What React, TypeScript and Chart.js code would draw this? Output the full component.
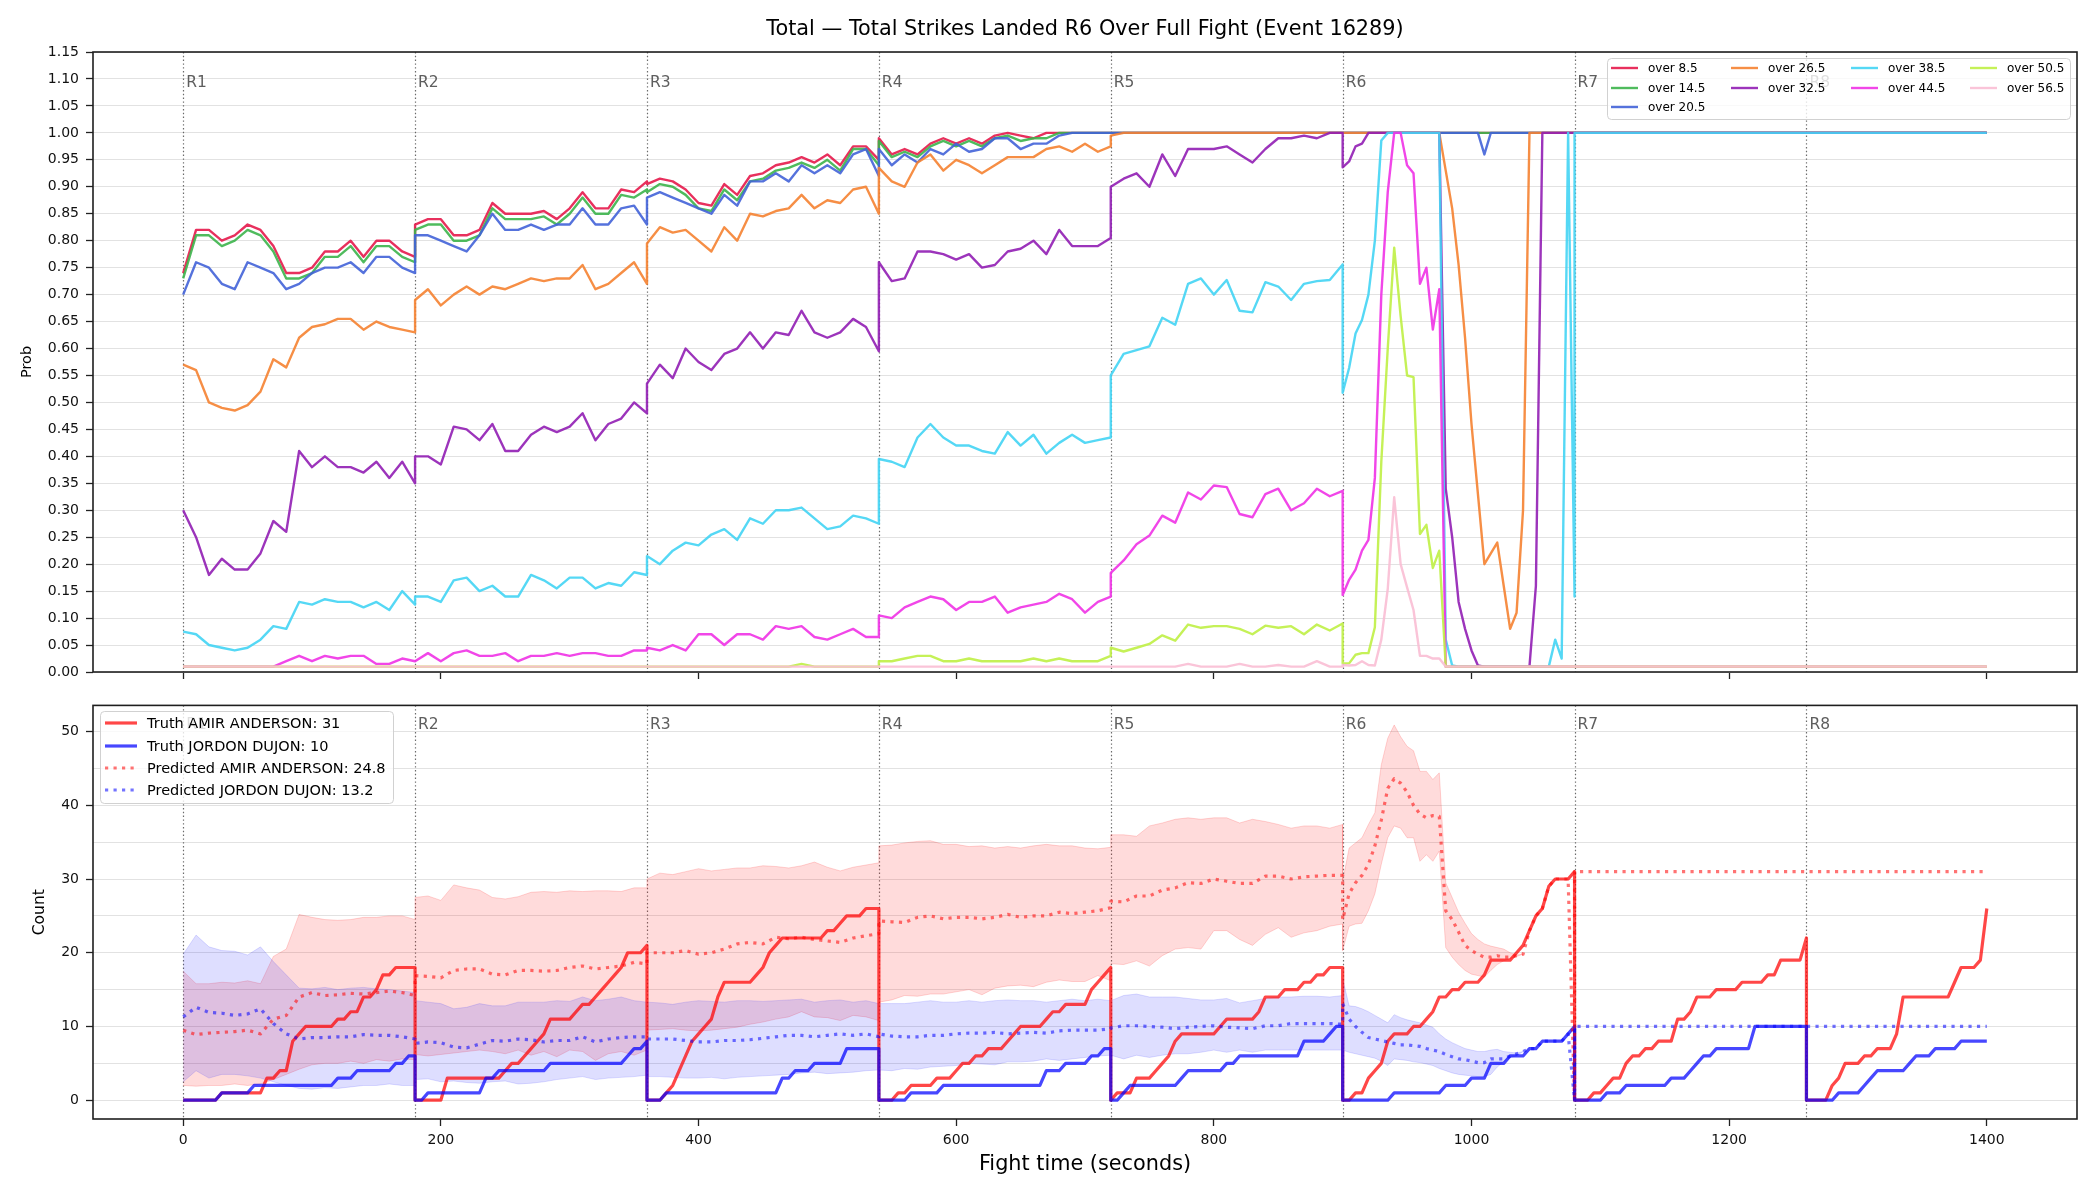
import React, { useEffect, useRef } from 'react';
import { Chart, registerables } from 'chart.js';

Chart.register(...registerables);

const FONT = '"DejaVu Sans", sans-serif';

// ---- fight structure (seconds) ----
const roundStarts = [0, 180, 360, 540, 720, 900, 1080, 1260];
const roundNames = ['R1', 'R2', 'R3', 'R4', 'R5', 'R6', 'R7', 'R8'];

// sampling interval (s) used by each round's values
const probStep = [10, 10, 10, 10, 10, 5, 180, 140];
const truthStep = [5, 5, 5, 5, 5, 5, 5, 5];
const predStep = [10, 10, 10, 10, 10, 5, 180, 140];
const bandStep = [10, 10, 10, 10, 10, 5];

const timeTicks = [0, 200, 400, 600, 800, 1000, 1200, 1400];
const probTicks = [0, 0.05, 0.1, 0.15, 0.2, 0.25, 0.3, 0.35, 0.4, 0.45, 0.5, 0.55, 0.6, 0.65, 0.7, 0.75, 0.8, 0.85, 0.9, 0.95, 1.0, 1.05, 1.1, 1.15];
const countTicks = [0, 5, 10, 15, 20, 25, 30, 35, 40, 45, 50];

const TITLE = 'Total \u2014 Total Strikes Landed R6 Over Full Fight (Event 16289)';

// ---- market probabilities, one array per round ----
const over85 = [
  [0.74, 0.82, 0.82, 0.80, 0.81, 0.83, 0.82, 0.79, 0.74, 0.74, 0.75, 0.78, 0.78, 0.80, 0.77, 0.80, 0.80, 0.78, 0.77],
  [0.83, 0.84, 0.84, 0.81, 0.81, 0.82, 0.87, 0.85, 0.85, 0.85, 0.855, 0.84, 0.86, 0.89, 0.86, 0.86, 0.895, 0.89, 0.91],
  [0.905, 0.915, 0.91, 0.895, 0.87, 0.865, 0.905, 0.885, 0.92, 0.925, 0.94, 0.945, 0.955, 0.945, 0.96, 0.94, 0.975, 0.975, 0.95],
  [0.99, 0.96, 0.97, 0.96, 0.98, 0.99, 0.98, 0.99, 0.98, 0.995, 1, 0.995, 0.99, 1, 1, 1, 1, 1, 1],
  [1, 1, 1, 1, 1, 1, 1, 1, 1, 1, 1, 1, 1, 1, 1, 1, 1, 1, 1],
  [1, 1, 1, 1, 1, 1, 1, 1, 1, 1, 1, 1, 1, 1, 1, 1, 1, 1, 1, 1, 1, 1, 1, 1, 1, 1, 1, 1, 1, 1, 1, 1, 1, 1, 1, 1, 1],
  [1, 1],
  [1, 1],
];
const over145 = [
  [0.73, 0.81, 0.81, 0.79, 0.80, 0.82, 0.81, 0.78, 0.73, 0.73, 0.74, 0.77, 0.77, 0.79, 0.76, 0.79, 0.79, 0.77, 0.76],
  [0.82, 0.83, 0.83, 0.80, 0.80, 0.81, 0.86, 0.84, 0.84, 0.84, 0.845, 0.83, 0.85, 0.88, 0.85, 0.85, 0.885, 0.88, 0.895],
  [0.89, 0.905, 0.90, 0.885, 0.86, 0.855, 0.895, 0.875, 0.91, 0.915, 0.93, 0.935, 0.945, 0.935, 0.95, 0.93, 0.97, 0.97, 0.94],
  [0.985, 0.955, 0.965, 0.955, 0.975, 0.985, 0.975, 0.985, 0.975, 0.99, 0.995, 0.985, 0.99, 0.99, 1, 1, 1, 1, 1],
  [1, 1, 1, 1, 1, 1, 1, 1, 1, 1, 1, 1, 1, 1, 1, 1, 1, 1, 1],
  [1, 1, 1, 1, 1, 1, 1, 1, 1, 1, 1, 1, 1, 1, 1, 1, 1, 1, 1, 1, 1, 1, 1, 1, 1, 1, 1, 1, 1, 1, 1, 1, 1, 1, 1, 1, 1],
  [1, 1],
  [1, 1],
];
const over205 = [
  [0.70, 0.76, 0.75, 0.72, 0.71, 0.76, 0.75, 0.74, 0.71, 0.72, 0.74, 0.75, 0.75, 0.76, 0.74, 0.77, 0.77, 0.75, 0.74],
  [0.81, 0.81, 0.80, 0.79, 0.78, 0.81, 0.85, 0.82, 0.82, 0.83, 0.82, 0.83, 0.83, 0.86, 0.83, 0.83, 0.86, 0.865, 0.83],
  [0.88, 0.89, 0.88, 0.87, 0.86, 0.85, 0.885, 0.865, 0.91, 0.91, 0.925, 0.91, 0.94, 0.925, 0.94, 0.925, 0.96, 0.97, 0.92],
  [0.97, 0.94, 0.96, 0.945, 0.97, 0.96, 0.98, 0.965, 0.97, 0.99, 0.99, 0.97, 0.98, 0.98, 0.995, 1, 1, 1, 1],
  [1, 1, 1, 1, 1, 1, 1, 1, 1, 1, 1, 1, 1, 1, 1, 1, 1, 1, 1],
  [1, 1, 1, 1, 1, 1, 1, 1, 1, 1, 1, 1, 1, 1, 1, 1, 1, 1, 1, 1, 1, 1, 0.96, 1, 1, 1, 1, 1, 1, 1, 1, 1, 1, 1, 1, 1, 1],
  [1, 1],
  [1, 1],
];
const over265 = [
  [0.57, 0.56, 0.50, 0.49, 0.485, 0.495, 0.52, 0.58, 0.565, 0.62, 0.64, 0.645, 0.655, 0.655, 0.635, 0.65, 0.64, 0.635, 0.63],
  [0.69, 0.71, 0.68, 0.70, 0.715, 0.70, 0.715, 0.71, 0.72, 0.73, 0.725, 0.73, 0.73, 0.755, 0.71, 0.72, 0.74, 0.76, 0.72],
  [0.795, 0.825, 0.815, 0.82, 0.80, 0.78, 0.825, 0.80, 0.85, 0.845, 0.855, 0.86, 0.885, 0.86, 0.875, 0.87, 0.895, 0.90, 0.85],
  [0.935, 0.91, 0.90, 0.945, 0.96, 0.93, 0.95, 0.94, 0.925, 0.94, 0.955, 0.955, 0.955, 0.97, 0.975, 0.965, 0.98, 0.965, 0.975],
  [0.995, 1, 1, 1, 1, 1, 1, 1, 1, 1, 1, 1, 1, 1, 1, 1, 1, 1, 1],
  [1, 1, 1, 1, 1, 1, 1, 1, 1, 1, 1, 1, 1, 1, 1, 1,
    0.93, 0.86, 0.755, 0.62, 0.46, 0.33, 0.20, 0.22, 0.24, 0.16, 0.08, 0.11, 0.30,
    1, 1, 1, 1, 1, 1, 1, 1],
  [1, 1],
  [1, 1],
];
const over325 = [
  [0.30, 0.25, 0.18, 0.21, 0.19, 0.19, 0.22, 0.28, 0.26, 0.41, 0.38, 0.40, 0.38, 0.38, 0.37, 0.39, 0.36, 0.39, 0.35],
  [0.40, 0.40, 0.385, 0.455, 0.45, 0.43, 0.46, 0.41, 0.41, 0.44, 0.455, 0.445, 0.455, 0.48, 0.43, 0.46, 0.47, 0.50, 0.48],
  [0.535, 0.57, 0.545, 0.60, 0.575, 0.56, 0.59, 0.60, 0.63, 0.60, 0.63, 0.625, 0.67, 0.63, 0.62, 0.63, 0.655, 0.64, 0.595],
  [0.76, 0.725, 0.73, 0.78, 0.78, 0.775, 0.765, 0.775, 0.75, 0.755, 0.78, 0.785, 0.80, 0.775, 0.82, 0.79, 0.79, 0.79, 0.805],
  [0.90, 0.915, 0.925, 0.90, 0.96, 0.92, 0.97, 0.97, 0.97, 0.975, 0.96, 0.945, 0.97, 0.99, 0.99, 0.995, 0.99, 1, 1],
  [0.936, 0.947, 0.975, 0.98, 1, 1, 1, 1, 1, 1, 1, 1, 1, 1, 1, 1,
    0.34, 0.25, 0.13, 0.08, 0.04, 0.012,
    0.01, 0.01, 0.01, 0.01, 0.01, 0.01, 0.01, 0.01,
    0.16, 1, 1, 1, 1, 1, 1],
  [1, 1],
  [1, 1],
];
const over385 = [
  [0.075, 0.07, 0.05, 0.045, 0.04, 0.045, 0.06, 0.085, 0.08, 0.13, 0.125, 0.135, 0.13, 0.13, 0.12, 0.13, 0.115, 0.15, 0.125],
  [0.14, 0.14, 0.13, 0.17, 0.175, 0.15, 0.16, 0.14, 0.14, 0.18, 0.17, 0.155, 0.175, 0.175, 0.155, 0.165, 0.16, 0.185, 0.18],
  [0.215, 0.20, 0.225, 0.24, 0.235, 0.255, 0.265, 0.245, 0.285, 0.275, 0.30, 0.30, 0.305, 0.285, 0.265, 0.27, 0.29, 0.285, 0.275],
  [0.395, 0.39, 0.38, 0.435, 0.46, 0.435, 0.42, 0.42, 0.41, 0.405, 0.445, 0.42, 0.44, 0.405, 0.425, 0.44, 0.425, 0.43, 0.435],
  [0.55, 0.59, 0.597, 0.604, 0.657, 0.644, 0.72, 0.73, 0.70, 0.727, 0.67, 0.667, 0.723, 0.715, 0.69, 0.72, 0.725, 0.727, 0.756],
  [0.518, 0.564, 0.628, 0.653, 0.70, 0.80, 0.986,
    1, 1, 1, 1, 1, 1, 1, 1, 1,
    0.06, 0.012,
    0.01, 0.01, 0.01, 0.01, 0.01, 0.01, 0.01, 0.01, 0.01, 0.01, 0.01, 0.01, 0.01, 0.01, 0.01,
    0.06, 0.025, 1, 0.14],
  [1, 1],
  [1, 1],
];
const over445 = [
  [0.01, 0.01, 0.01, 0.01, 0.01, 0.01, 0.01, 0.01, 0.02, 0.03, 0.02, 0.03, 0.025, 0.03, 0.03, 0.015, 0.015, 0.025, 0.02],
  [0.02, 0.035, 0.02, 0.035, 0.04, 0.03, 0.03, 0.035, 0.02, 0.03, 0.03, 0.035, 0.03, 0.035, 0.035, 0.03, 0.03, 0.04, 0.04],
  [0.045, 0.04, 0.05, 0.04, 0.07, 0.07, 0.05, 0.07, 0.07, 0.06, 0.085, 0.08, 0.085, 0.065, 0.06, 0.07, 0.08, 0.065, 0.065],
  [0.105, 0.10, 0.12, 0.13, 0.14, 0.135, 0.115, 0.13, 0.13, 0.14, 0.11, 0.12, 0.125, 0.13, 0.145, 0.135, 0.11, 0.13, 0.14],
  [0.184, 0.207, 0.237, 0.253, 0.29, 0.277, 0.333, 0.32, 0.346, 0.343, 0.293, 0.287, 0.33, 0.34, 0.30, 0.313, 0.34, 0.326, 0.336],
  [0.143, 0.171, 0.19, 0.225, 0.245, 0.36, 0.70, 0.89, 1, 1, 0.94, 0.925, 0.72, 0.75, 0.635, 0.71,
    0.01, 0.01, 0.01, 0.01, 0.01, 0.01, 0.01, 0.01, 0.01, 0.01, 0.01, 0.01, 0.01, 0.01, 0.01, 0.01, 0.01, 0.01, 0.01, 0.01, 0.01],
  [0.01, 0.01],
  [0.01, 0.01],
];
const over505 = [
  [0.01, 0.01, 0.01, 0.01, 0.01, 0.01, 0.01, 0.01, 0.01, 0.01, 0.01, 0.01, 0.01, 0.01, 0.01, 0.01, 0.01, 0.01, 0.01],
  [0.01, 0.01, 0.01, 0.01, 0.01, 0.01, 0.01, 0.01, 0.01, 0.01, 0.01, 0.01, 0.01, 0.01, 0.01, 0.01, 0.01, 0.01, 0.01],
  [0.01, 0.01, 0.01, 0.01, 0.01, 0.01, 0.01, 0.01, 0.01, 0.01, 0.01, 0.01, 0.015, 0.01, 0.01, 0.01, 0.01, 0.01, 0.01],
  [0.02, 0.02, 0.025, 0.03, 0.03, 0.02, 0.02, 0.025, 0.02, 0.02, 0.02, 0.02, 0.025, 0.02, 0.025, 0.02, 0.02, 0.02, 0.03],
  [0.045, 0.038, 0.045, 0.052, 0.068, 0.058, 0.088, 0.082, 0.085, 0.085, 0.08, 0.07, 0.086, 0.082, 0.085, 0.07, 0.088, 0.077, 0.09],
  [0.016, 0.016, 0.032, 0.035, 0.035, 0.083, 0.39, 0.60, 0.787, 0.66, 0.55, 0.547, 0.256, 0.273, 0.193, 0.225,
    0.01, 0.01, 0.01, 0.01, 0.01, 0.01, 0.01, 0.01, 0.01, 0.01, 0.01, 0.01, 0.01, 0.01, 0.01, 0.01, 0.01, 0.01, 0.01, 0.01, 0.01],
  [0.01, 0.01],
  [0.01, 0.01],
];
const over565 = [
  [0.01, 0.01, 0.01, 0.01, 0.01, 0.01, 0.01, 0.01, 0.01, 0.01, 0.01, 0.01, 0.01, 0.01, 0.01, 0.01, 0.01, 0.01, 0.01],
  [0.01, 0.01, 0.01, 0.01, 0.01, 0.01, 0.01, 0.01, 0.01, 0.01, 0.01, 0.01, 0.01, 0.01, 0.01, 0.01, 0.01, 0.01, 0.01],
  [0.01, 0.01, 0.01, 0.01, 0.01, 0.01, 0.01, 0.01, 0.01, 0.01, 0.01, 0.01, 0.01, 0.01, 0.01, 0.01, 0.01, 0.01, 0.01],
  [0.01, 0.01, 0.01, 0.01, 0.01, 0.01, 0.01, 0.01, 0.01, 0.01, 0.01, 0.01, 0.01, 0.01, 0.01, 0.01, 0.01, 0.01, 0.01],
  [0.01, 0.01, 0.01, 0.01, 0.01, 0.01, 0.015, 0.01, 0.01, 0.01, 0.015, 0.01, 0.01, 0.013, 0.01, 0.01, 0.02, 0.01, 0.01],
  [0.013, 0.012, 0.013, 0.02, 0.013, 0.012, 0.06, 0.154, 0.324, 0.20, 0.157, 0.115, 0.03, 0.03, 0.025, 0.025,
    0.01, 0.01, 0.01, 0.01, 0.01, 0.01, 0.01, 0.01, 0.01, 0.01, 0.01, 0.01, 0.01, 0.01, 0.01, 0.01, 0.01, 0.01, 0.01, 0.01, 0.01],
  [0.01, 0.01],
  [0.01, 0.01],
];

const probSeries = [
  { label: 'over 8.5', color: '#e6194b', values: over85 },
  { label: 'over 14.5', color: '#3cb44b', values: over145 },
  { label: 'over 20.5', color: '#4363d8', values: over205 },
  { label: 'over 26.5', color: '#f58231', values: over265 },
  { label: 'over 32.5', color: '#911eb4', values: over325 },
  { label: 'over 38.5', color: '#42d4f4', values: over385 },
  { label: 'over 44.5', color: '#f032e6', values: over445 },
  { label: 'over 50.5', color: '#bfef45', values: over505 },
  { label: 'over 56.5', color: '#fabed4', values: over565 },
];

// ---- strike counts (per-round cumulative) ----
const fighterA = 'AMIR ANDERSON';
const fighterB = 'JORDON DUJON';
const finalTruthA = 31;
const finalTruthB = 10;
const finalPredA = 24.8;
const finalPredB = 13.2;

const truthA = [
  [0, 0, 0, 0, 0, 0, 1, 1, 1, 1, 1, 1, 1, 3, 3, 4, 4, 8, 9, 10, 10, 10, 10, 10, 11, 11, 12, 12, 14, 14, 15, 17, 17, 18, 18, 18, 18],
  [0, 0, 0, 0, 0, 3, 3, 3, 3, 3, 3, 3, 3, 3, 4, 5, 5, 6, 7, 8, 9, 11, 11, 11, 11, 12, 13, 13, 14, 15, 16, 17, 18, 20, 20, 20, 21],
  [0, 0, 0, 1, 2, 4, 6, 8, 9, 10, 11, 14, 16, 16, 16, 16, 16, 17, 18, 20, 21, 22, 22, 22, 22, 22, 22, 22, 23, 23, 24, 25, 25, 25, 26, 26, 26],
  [0, 0, 0, 1, 1, 2, 2, 2, 2, 3, 3, 3, 4, 5, 5, 6, 6, 7, 7, 7, 8, 9, 10, 10, 10, 10, 11, 12, 12, 13, 13, 13, 13, 15, 16, 17, 18],
  [0, 1, 1, 1, 3, 3, 3, 4, 5, 6, 8, 9, 9, 9, 9, 9, 9, 10, 11, 11, 11, 11, 11, 12, 14, 14, 14, 15, 15, 15, 16, 16, 17, 17, 18, 18, 18],
  [0, 0, 1, 1, 3, 4, 5, 8, 9, 9, 9, 10, 10, 11, 12, 14, 14, 15, 15, 16, 16, 16, 17, 19, 19, 19, 19, 20, 21, 23, 25, 26, 29, 30, 30, 30, 31],
  [0, 0, 0, 1, 1, 2, 3, 3, 5, 6, 6, 7, 7, 8, 8, 8, 11, 11, 12, 14, 14, 14, 15, 15, 15, 15, 16, 16, 16, 16, 17, 17, 19, 19, 19, 19, 22],
  [0, 0, 0, 0, 2, 3, 5, 5, 5, 6, 6, 7, 7, 7, 9, 14, 14, 14, 14, 14, 14, 14, 14, 16, 18, 18, 18, 19, 26],
];
const truthB = [
  [0, 0, 0, 0, 0, 0, 1, 1, 1, 1, 1, 2, 2, 2, 2, 2, 2, 2, 2, 2, 2, 2, 2, 2, 3, 3, 3, 4, 4, 4, 4, 4, 4, 5, 5, 6, 6],
  [0, 0, 1, 1, 1, 1, 1, 1, 1, 1, 1, 3, 3, 4, 4, 4, 4, 4, 4, 4, 4, 5, 5, 5, 5, 5, 5, 5, 5, 5, 5, 5, 5, 6, 7, 7, 8],
  [0, 0, 0, 1, 1, 1, 1, 1, 1, 1, 1, 1, 1, 1, 1, 1, 1, 1, 1, 1, 1, 3, 3, 4, 4, 4, 5, 5, 5, 5, 5, 7, 7, 7, 7, 7, 7],
  [0, 0, 0, 0, 0, 1, 1, 1, 1, 1, 2, 2, 2, 2, 2, 2, 2, 2, 2, 2, 2, 2, 2, 2, 2, 2, 4, 4, 4, 5, 5, 5, 5, 6, 6, 7, 7],
  [0, 0, 1, 2, 2, 2, 2, 2, 2, 2, 2, 3, 4, 4, 4, 4, 4, 4, 5, 5, 6, 6, 6, 6, 6, 6, 6, 6, 6, 6, 8, 8, 8, 8, 9, 10, 10],
  [0, 0, 0, 0, 0, 0, 0, 0, 1, 1, 1, 1, 1, 1, 1, 1, 2, 2, 2, 2, 3, 3, 3, 5, 5, 5, 6, 6, 6, 7, 7, 8, 8, 8, 8, 9, 10],
  [0, 0, 0, 0, 0, 1, 1, 1, 2, 2, 2, 2, 2, 2, 2, 3, 3, 3, 4, 5, 6, 6, 7, 7, 7, 7, 7, 7, 10, 10, 10, 10, 10, 10, 10, 10, 10],
  [0, 0, 0, 0, 0, 1, 1, 1, 1, 2, 3, 4, 4, 4, 4, 4, 5, 6, 6, 6, 7, 7, 7, 7, 8, 8, 8, 8, 8],
];

const predA = [
  [9.5, 8.9, 9.1, 9.2, 9.3, 9.5, 9.0, 11.0, 11.5, 14.0, 14.6, 14.2, 14.3, 14.5, 14.4, 14.6, 14.8, 14.6, 14.2],
  [16.9, 16.8, 16.6, 17.6, 17.8, 17.8, 17.1, 17.0, 17.6, 17.6, 17.5, 17.6, 18.0, 18.2, 17.8, 18.0, 18.2, 18.7, 18.5],
  [20.0, 20.0, 20.0, 20.3, 19.8, 20.0, 20.5, 21.2, 21.4, 21.2, 22.1, 21.9, 22.1, 21.8, 21.6, 21.4, 22.0, 22.3, 22.6],
  [24.3, 24.2, 24.1, 24.8, 25.0, 24.6, 24.8, 24.8, 24.6, 24.8, 25.2, 24.8, 25.0, 25.0, 25.5, 25.3, 25.5, 25.7, 26.1],
  [27.0, 26.9, 27.7, 27.7, 28.5, 28.8, 29.5, 29.4, 30.0, 29.7, 29.4, 29.4, 30.4, 30.4, 30.0, 30.3, 30.4, 30.5, 30.5],
  [24.5, 28.0, 29.5, 30.5, 32.0, 34.5, 38.0, 42.3, 43.6, 43.0, 41.8, 40.0, 38.8, 38.3, 38.6, 38.5,
    25.7, 24.5, 22.8, 21.0, 20.3, 19.8, 19.4, 19.4, 19.6, 19.4, 19.4, 19.6, 19.8,
    23, 25, 26, 29, 30, 30, 30, 0],
  [31, 31],
  [31, 31],
];
const predB = [
  [11.3, 12.6, 11.9, 11.8, 11.5, 11.7, 12.4, 10.4, 9.0, 8.3, 8.5, 8.5, 8.6, 8.6, 8.9, 8.8, 8.8, 8.6, 8.3],
  [7.7, 7.9, 7.8, 7.2, 7.1, 7.6, 8.1, 8.0, 8.3, 8.2, 7.9, 8.1, 8.1, 8.6, 7.9, 8.3, 8.5, 8.6, 8.6],
  [8.3, 8.3, 8.3, 8.1, 7.9, 7.9, 8.1, 8.1, 8.2, 8.4, 8.6, 8.8, 8.8, 8.6, 8.8, 9.0, 8.8, 9.0, 8.6],
  [9.0, 8.7, 8.6, 8.6, 8.8, 8.8, 9.0, 9.1, 9.1, 9.2, 9.0, 9.1, 9.2, 9.1, 9.4, 9.5, 9.5, 9.5, 9.7],
  [9.8, 10.1, 10.1, 10.0, 9.9, 9.7, 9.9, 10.0, 10.1, 9.9, 9.8, 9.7, 10.1, 10.1, 10.4, 10.4, 10.4, 10.4, 10.3],
  [13.1, 11.0, 10.0, 9.2, 8.5, 8.3, 8.1, 7.9, 7.7, 7.5, 7.5, 7.4, 7.3, 7.0, 6.8, 6.6,
    6.2, 5.9, 5.6, 5.5, 5.3, 5.1, 5.1, 5.6, 5.6, 5.6, 6.0, 6.3, 6.6,
    7, 7, 8, 8, 8, 8, 9, 0],
  [10, 10],
  [10, 10],
];

// prediction intervals (R1..R6)
const bandAHigh = [
  [17.5, 15.8, 15.8, 16.0, 15.9, 16.2, 15.8, 19.5, 20.5, 25.2, 24.8, 24.5, 24.4, 24.5, 24.8, 24.8, 25.0, 25.0, 24.5],
  [27.5, 27.7, 27.1, 29.2, 28.8, 28.5, 27.5, 27.3, 27.6, 28.2, 28.3, 28.2, 28.4, 28.3, 28.4, 28.4, 28.3, 28.8, 28.8],
  [30.0, 30.8, 30.6, 31.0, 31.4, 31.1, 31.3, 31.5, 31.5, 31.8, 31.7, 31.5, 31.8, 32.3, 31.6, 31.1, 31.6, 31.9, 32.2],
  [34.5, 34.6, 34.9, 35.1, 35.2, 34.7, 34.7, 34.4, 34.5, 34.2, 34.4, 34.2, 34.5, 34.7, 34.5, 34.5, 34.2, 34.1, 34.3],
  [36.0, 36.0, 35.8, 37.2, 37.6, 38.1, 38.3, 38.1, 38.3, 38.3, 37.6, 38.1, 37.8, 37.4, 36.9, 37.2, 37.2, 36.9, 37.4],
  [29.7, 34.2, 34.9, 35.6, 37.4, 39.0, 45.5, 49.1, 50.9, 49.3, 48.0, 47.4, 44.6, 44.6, 43.5, 44.4,
    29.5, 27.5, 25.5, 24.0, 22.6, 21.8, 21.2, 20.9, 20.7, 20.5, 20.0, 19.7, 19.8],
];
const bandALow = [
  [2.0, 1.9, 2.0, 2.0, 2.2, 2.0, 2.2, 2.8, 3.5, 4.2, 4.8, 5.0, 5.0, 5.3, 5.0, 5.5, 5.3, 5.6, 5.5],
  [6.2, 6.0, 6.2, 6.4, 6.6, 6.8, 6.6, 6.3, 6.8, 6.1, 6.6, 5.9, 6.8, 6.6, 5.4, 6.3, 6.6, 6.1, 6.8],
  [9.5, 9.6, 9.7, 9.5, 9.4, 9.5, 9.7, 9.9, 10.3, 10.6, 11.0, 11.3, 12.0, 11.3, 11.2, 10.8, 11.5, 11.3, 10.8],
  [13.3, 13.6, 14.2, 14.1, 14.4, 14.4, 14.7, 15.0, 14.3, 15.2, 15.5, 15.6, 15.4, 16.0, 16.3, 16.1, 16.1, 16.9, 16.2],
  [18.5, 18.4, 18.9, 18.2, 19.6, 20.5, 20.7, 20.5, 23.0, 23.0, 21.8, 21.0, 22.5, 23.4, 22.1, 22.7, 23.0, 23.6, 23.9],
  [20.3, 23.6, 23.9, 24.0, 25.7, 28.0, 32.0, 35.6, 37.2, 36.9, 35.6, 35.6, 32.4, 33.3, 32.4, 33.8,
    20.7, 19.4, 18.4, 17.6, 17.1, 16.9, 16.7, 17.6, 18.4, 18.9, 19.2, 19.5, 19.8],
];
const bandBHigh = [
  [19.8, 22.4, 20.8, 20.3, 20.2, 19.7, 20.8, 18.8, 17.0, 15.2, 15.1, 15.3, 15.0, 15.2, 15.3, 15.1, 15.0, 14.8, 14.6],
  [13.5, 13.3, 13.1, 12.4, 12.6, 13.1, 12.8, 12.8, 13.3, 13.3, 13.3, 13.5, 13.4, 14.0, 13.5, 13.7, 14.0, 13.5, 13.3],
  [13.3, 13.2, 13.0, 13.3, 13.5, 13.4, 13.3, 13.5, 13.5, 13.4, 13.5, 13.6, 13.7, 13.3, 13.5, 13.6, 13.3, 13.5, 13.1],
  [13.1, 13.1, 13.1, 13.3, 13.5, 13.3, 13.3, 13.5, 13.3, 13.5, 13.6, 13.5, 13.5, 13.3, 13.5, 13.7, 13.5, 13.7, 13.5],
  [13.5, 14.2, 14.4, 14.0, 14.0, 14.0, 13.8, 13.6, 13.6, 13.8, 13.2, 13.5, 13.8, 14.0, 14.0, 14.1, 14.1, 14.0, 14.2],
  [16.5, 12.8, 12.7, 12.4, 12.0, 11.5, 11.0, 10.5, 11.6, 11.2, 10.9, 10.7, 10.5, 10.2, 9.9, 9.0,
    8.3, 7.8, 7.4, 7.0, 6.8, 6.6, 6.6, 6.8, 6.9, 6.6, 6.5, 6.4, 6.6],
];
const bandBLow = [
  [2.5, 4.0, 3.0, 3.5, 3.5, 3.3, 3.0, 2.5, 2.0, 1.6, 1.5, 1.7, 1.6, 1.8, 2.0, 2.0, 2.2, 2.0, 2.0],
  [2.8, 2.9, 2.5, 2.6, 2.4, 2.3, 2.5, 2.6, 2.2, 2.3, 2.5, 2.8, 3.0, 3.2, 2.8, 3.0, 3.1, 3.2, 3.4],
  [3.2, 3.2, 3.1, 3.0, 3.0, 3.1, 2.9, 3.1, 3.2, 3.3, 3.4, 3.5, 3.7, 3.8, 3.6, 3.7, 3.8, 4.0, 4.1],
  [4.1, 4.0, 4.3, 4.2, 4.5, 4.6, 4.7, 5.0, 4.9, 4.8, 5.2, 5.2, 5.3, 5.6, 5.4, 5.6, 5.8, 6.0, 6.1],
  [6.1, 5.6, 6.1, 5.8, 6.1, 6.3, 6.3, 6.5, 6.8, 6.5, 6.8, 6.5, 6.8, 6.8, 6.8, 6.8, 6.8, 6.8, 6.8],
  [6.8, 6.5, 6.3, 6.1, 5.9, 5.7, 5.3, 4.7, 5.6, 5.5, 5.4, 5.2, 5.1, 4.9, 4.7, 4.3,
    4.0, 3.7, 3.5, 3.4, 3.3, 3.2, 3.2, 3.5, 4.5, 5.2, 5.8, 6.0, 6.6],
];

// ---- helpers ----
type Pt = { x: number; y: number };
function toPoints(rounds: number[][], steps: number[]): Pt[] {
  const out: Pt[] = [];
  rounds.forEach((vals, r) => {
    vals.forEach((v, i) => out.push({ x: roundStarts[r] + i * steps[r], y: v }));
  });
  return out;
}
function rgba(hex: string, a: number) {
  const n = parseInt(hex.slice(1), 16);
  return `rgba(${(n >> 16) & 255},${(n >> 8) & 255},${n & 255},${a})`;
}

type LegendEntry = { text: string; color: string; width: number; dash?: number[]; hx: number; hy: number; hlen: number; tx: number };
type LegendBox = { x: number; y: number; w: number; h: number; font: number; entries: LegendEntry[] };

function drawLegend(ctx: CanvasRenderingContext2D, lg: LegendBox) {
  ctx.save();
  ctx.beginPath();
  (ctx as any).roundRect(lg.x + 0.5, lg.y + 0.5, lg.w, lg.h, 4);
  ctx.fillStyle = 'rgba(255,255,255,0.8)';
  ctx.fill();
  ctx.strokeStyle = 'rgba(204,204,204,0.9)';
  ctx.lineWidth = 1;
  ctx.stroke();
  ctx.font = `${lg.font}px ${FONT}`;
  ctx.textBaseline = 'middle';
  ctx.textAlign = 'left';
  lg.entries.forEach((e) => {
    ctx.beginPath();
    ctx.strokeStyle = e.color;
    ctx.lineWidth = e.width;
    ctx.lineCap = 'butt';
    ctx.setLineDash(e.dash || []);
    ctx.moveTo(e.hx, e.hy);
    ctx.lineTo(e.hx + e.hlen, e.hy);
    ctx.stroke();
    ctx.setLineDash([]);
    ctx.fillStyle = '#000';
    ctx.fillText(e.text, e.tx, e.hy + 1);
  });
  ctx.restore();
}

function makeDecor(o: {
  labelValue: number;
  title?: string;
  yLabel: string;
  yLabelX: number;
  yLabelSize: number;
  xLabel?: string;
  xLabelY?: number;
  legend: LegendBox;
}) {
  return {
    id: 'decor',
    beforeDatasetsDraw(chart: any) {
      const { ctx, chartArea: a, scales } = chart;
      ctx.save();
      ctx.beginPath();
      ctx.rect(a.left, a.top, a.right - a.left, a.bottom - a.top);
      ctx.clip();
      ctx.strokeStyle = 'rgba(70,70,70,0.8)';
      ctx.lineWidth = 1.2;
      ctx.setLineDash([1.4, 2.4]);
      roundStarts.forEach((t) => {
        const px = Math.round(scales.x.getPixelForValue(t)) + 0.5;
        ctx.beginPath();
        ctx.moveTo(px, a.top);
        ctx.lineTo(px, a.bottom);
        ctx.stroke();
      });
      ctx.restore();
    },
    afterDatasetsDraw(chart: any) {
      const { ctx, scales } = chart;
      ctx.save();
      ctx.font = `15.5px ${FONT}`;
      ctx.fillStyle = 'rgba(85,85,85,0.95)';
      ctx.textBaseline = 'middle';
      ctx.textAlign = 'left';
      const py = scales.y.getPixelForValue(o.labelValue);
      roundStarts.forEach((t, i) => {
        ctx.fillText(roundNames[i], scales.x.getPixelForValue(t) + 3, py);
      });
      ctx.restore();
    },
    afterDraw(chart: any) {
      const { ctx, chartArea: a } = chart;
      ctx.save();
      ctx.strokeStyle = '#1e1e1e';
      ctx.lineWidth = 1.6;
      ctx.strokeRect(a.left, a.top, a.right - a.left, a.bottom - a.top);
      drawLegend(ctx, o.legend);
      ctx.fillStyle = '#000';
      ctx.textAlign = 'center';
      ctx.textBaseline = 'middle';
      const cx = (a.left + a.right) / 2;
      if (o.title) {
        ctx.font = `20.8px ${FONT}`;
        ctx.fillText(o.title, cx, 30);
      }
      if (o.xLabel) {
        ctx.font = `20.8px ${FONT}`;
        ctx.fillText(o.xLabel, cx, o.xLabelY || 0);
      }
      ctx.save();
      ctx.translate(o.yLabelX, (a.top + a.bottom) / 2);
      ctx.rotate(-Math.PI / 2);
      ctx.font = `${o.yLabelSize}px ${FONT}`;
      ctx.fillText(o.yLabel, 0, 0);
      ctx.restore();
      ctx.restore();
    },
  };
}

const xScaleBase = (showLabels: boolean, height: number) => ({
  type: 'linear' as const,
  min: -70,
  max: 1470,
  afterBuildTicks: (s: any) => {
    s.ticks = timeTicks.map((v) => ({ value: v }));
  },
  afterFit: (s: any) => {
    s.height = height;
  },
  grid: { drawOnChartArea: false, drawTicks: true, tickLength: 7, tickColor: '#222', tickWidth: 1.3 },
  border: { display: false },
  ticks: {
    autoSkip: false,
    maxRotation: 0,
    padding: 6,
    color: showLabels ? '#111' : 'rgba(0,0,0,0)',
    font: { family: FONT, size: 14 },
    callback: (v: any) => String(v),
  },
});

// page geometry of the two panels
const BOTTOM_TOP = 690;
const TOP_AXIS_BOTTOM = 672;

export default function App() {
  const topRef = useRef<HTMLCanvasElement>(null);
  const botRef = useRef<HTMLCanvasElement>(null);

  useEffect(() => {
    if (!topRef.current || !botRef.current) return;

    // ---------- probability panel ----------
    const colX = [1611, 1731, 1851, 1970];
    const rowY = [68, 88, 107];
    const topLegend: LegendBox = {
      x: 1607, y: 58, w: 463, h: 61, font: 12,
      entries: probSeries.map((s, i) => {
        const col = i < 3 ? 0 : 1 + Math.floor((i - 3) / 2);
        const row = i < 3 ? i : (i - 3) % 2;
        return { text: s.label, color: rgba(s.color, 0.9), width: 2.4, hx: colX[col], hy: rowY[row], hlen: 27, tx: colX[col] + 37 };
      }),
    };
    const n = probSeries.length;
    const top = new Chart(topRef.current, {
      type: 'line',
      data: {
        datasets: probSeries.map((s, i) => ({
          label: s.label,
          data: toPoints(s.values, probStep),
          borderColor: rgba(s.color, 0.9),
          backgroundColor: rgba(s.color, 0.9),
          borderWidth: 2.4,
          pointRadius: 0,
          pointHoverRadius: 0,
          tension: 0,
          fill: false,
          borderJoinStyle: 'round',
          order: n - i,
        })),
      } as any,
      options: {
        animation: false,
        responsive: false,
        maintainAspectRatio: false,
        devicePixelRatio: 1,
        events: [],
        layout: { padding: { left: 0, right: 23, top: 52, bottom: 0 } },
        plugins: { legend: { display: false }, tooltip: { enabled: false }, title: { display: false } },
        scales: {
          x: xScaleBase(false, BOTTOM_TOP - TOP_AXIS_BOTTOM),
          y: {
            type: 'linear',
            min: 0,
            max: 1.15,
            afterBuildTicks: (s: any) => {
              s.ticks = probTicks.map((v) => ({ value: v }));
            },
            afterFit: (s: any) => {
              s.width = 93;
            },
            grid: { color: '#e2e2e2', lineWidth: 1, drawTicks: true, tickLength: 7, tickColor: '#222', tickWidth: 1.3 },
            border: { display: false },
            ticks: { autoSkip: false, padding: 7, color: '#111', font: { family: FONT, size: 14 }, callback: (v: any) => Number(v).toFixed(2) },
          },
        },
      } as any,
      plugins: [makeDecor({ labelValue: 1.0925, title: TITLE, yLabel: 'Prob', yLabelX: 27, yLabelSize: 14.5, legend: topLegend })],
    });

    // ---------- count panel ----------
    const redLine = 'rgba(255,0,0,0.72)';
    const blueLine = 'rgba(0,0,255,0.72)';
    const redDot = 'rgba(255,0,0,0.55)';
    const blueDot = 'rgba(0,0,255,0.55)';
    const dash = [3.2, 5.3];
    const off = BOTTOM_TOP;
    const legRows = [723 - off, 746 - off, 768 - off, 790 - off];
    const botLegend: LegendBox = {
      x: 100, y: 711 - off, w: 293, h: 92, font: 14.5,
      entries: [
        { text: `Truth ${fighterA}: ${finalTruthA}`, color: redLine, width: 3.2, hx: 105, hy: legRows[0], hlen: 32, tx: 147 },
        { text: `Truth ${fighterB}: ${finalTruthB}`, color: blueLine, width: 3.2, hx: 105, hy: legRows[1], hlen: 32, tx: 147 },
        { text: `Predicted ${fighterA}: ${finalPredA}`, color: redDot, width: 3.2, dash, hx: 105, hy: legRows[2], hlen: 32, tx: 147 },
        { text: `Predicted ${fighterB}: ${finalPredB}`, color: blueDot, width: 3.2, dash, hx: 105, hy: legRows[3], hlen: 32, tx: 147 },
      ],
    };
    const common = { pointRadius: 0, pointHoverRadius: 0, tension: 0, borderJoinStyle: 'round' };
    const bottomSets = [
      { ...common, data: toPoints(bandAHigh, bandStep), borderColor: 'rgba(255,0,0,0.16)', borderWidth: 1, backgroundColor: 'rgba(255,0,0,0.14)', fill: '+1' },
      { ...common, data: toPoints(bandALow, bandStep), borderColor: 'rgba(255,0,0,0.16)', borderWidth: 1, fill: false },
      { ...common, data: toPoints(bandBHigh, bandStep), borderColor: 'rgba(0,0,255,0.13)', borderWidth: 1, backgroundColor: 'rgba(0,0,255,0.13)', fill: '+1' },
      { ...common, data: toPoints(bandBLow, bandStep), borderColor: 'rgba(0,0,255,0.13)', borderWidth: 1, fill: false },
      { ...common, data: toPoints(truthA, truthStep), borderColor: redLine, borderWidth: 3.2, fill: false },
      { ...common, data: toPoints(truthB, truthStep), borderColor: blueLine, borderWidth: 3.2, fill: false },
      { ...common, data: toPoints(predA, predStep), borderColor: redDot, borderWidth: 3.2, borderDash: dash, fill: false },
      { ...common, data: toPoints(predB, predStep), borderColor: blueDot, borderWidth: 3.2, borderDash: dash, fill: false },
    ].map((d, i, arr) => ({ ...d, order: arr.length - i }));

    const bottom = new Chart(botRef.current, {
      type: 'line',
      data: { datasets: bottomSets } as any,
      options: {
        animation: false,
        responsive: false,
        maintainAspectRatio: false,
        devicePixelRatio: 1,
        events: [],
        layout: { padding: { left: 0, right: 23, top: 704 - off, bottom: 0 } },
        plugins: { legend: { display: false }, tooltip: { enabled: false }, title: { display: false }, filler: { propagate: false } },
        scales: {
          x: xScaleBase(true, 1200 - 1119),
          y: {
            type: 'linear',
            min: -2.55,
            max: 53.55,
            afterBuildTicks: (s: any) => {
              s.ticks = countTicks.map((v) => ({ value: v }));
            },
            afterFit: (s: any) => {
              s.width = 93;
            },
            grid: {
              color: '#e2e2e2',
              lineWidth: 1,
              drawTicks: true,
              tickLength: 7,
              tickWidth: 1.3,
              tickColor: (c: any) => (c.tick && c.tick.value % 10 === 0 ? '#222' : 'rgba(0,0,0,0)'),
            },
            border: { display: false },
            ticks: {
              autoSkip: false,
              padding: 7,
              color: '#111',
              font: { family: FONT, size: 14 },
              callback: (v: any) => (Number(v) % 10 === 0 ? String(v) : ''),
            },
          },
        },
      } as any,
      plugins: [makeDecor({ labelValue: 50.87, yLabel: 'Count', yLabelX: 40, yLabelSize: 15.5, xLabel: 'Fight time (seconds)', xLabelY: 1165 - off, legend: botLegend })],
    });

    return () => {
      top.destroy();
      bottom.destroy();
    };
  }, []);

  return (
    <div style={{ position: 'absolute', left: 0, top: 0, width: 2100, height: 1200, background: '#fff', overflow: 'hidden' }}>
      <canvas ref={topRef} width={2100} height={BOTTOM_TOP} style={{ position: 'absolute', left: 0, top: 0, width: 2100, height: BOTTOM_TOP }} />
      <canvas ref={botRef} width={2100} height={1200 - BOTTOM_TOP} style={{ position: 'absolute', left: 0, top: BOTTOM_TOP, width: 2100, height: 1200 - BOTTOM_TOP }} />
    </div>
  );
}
